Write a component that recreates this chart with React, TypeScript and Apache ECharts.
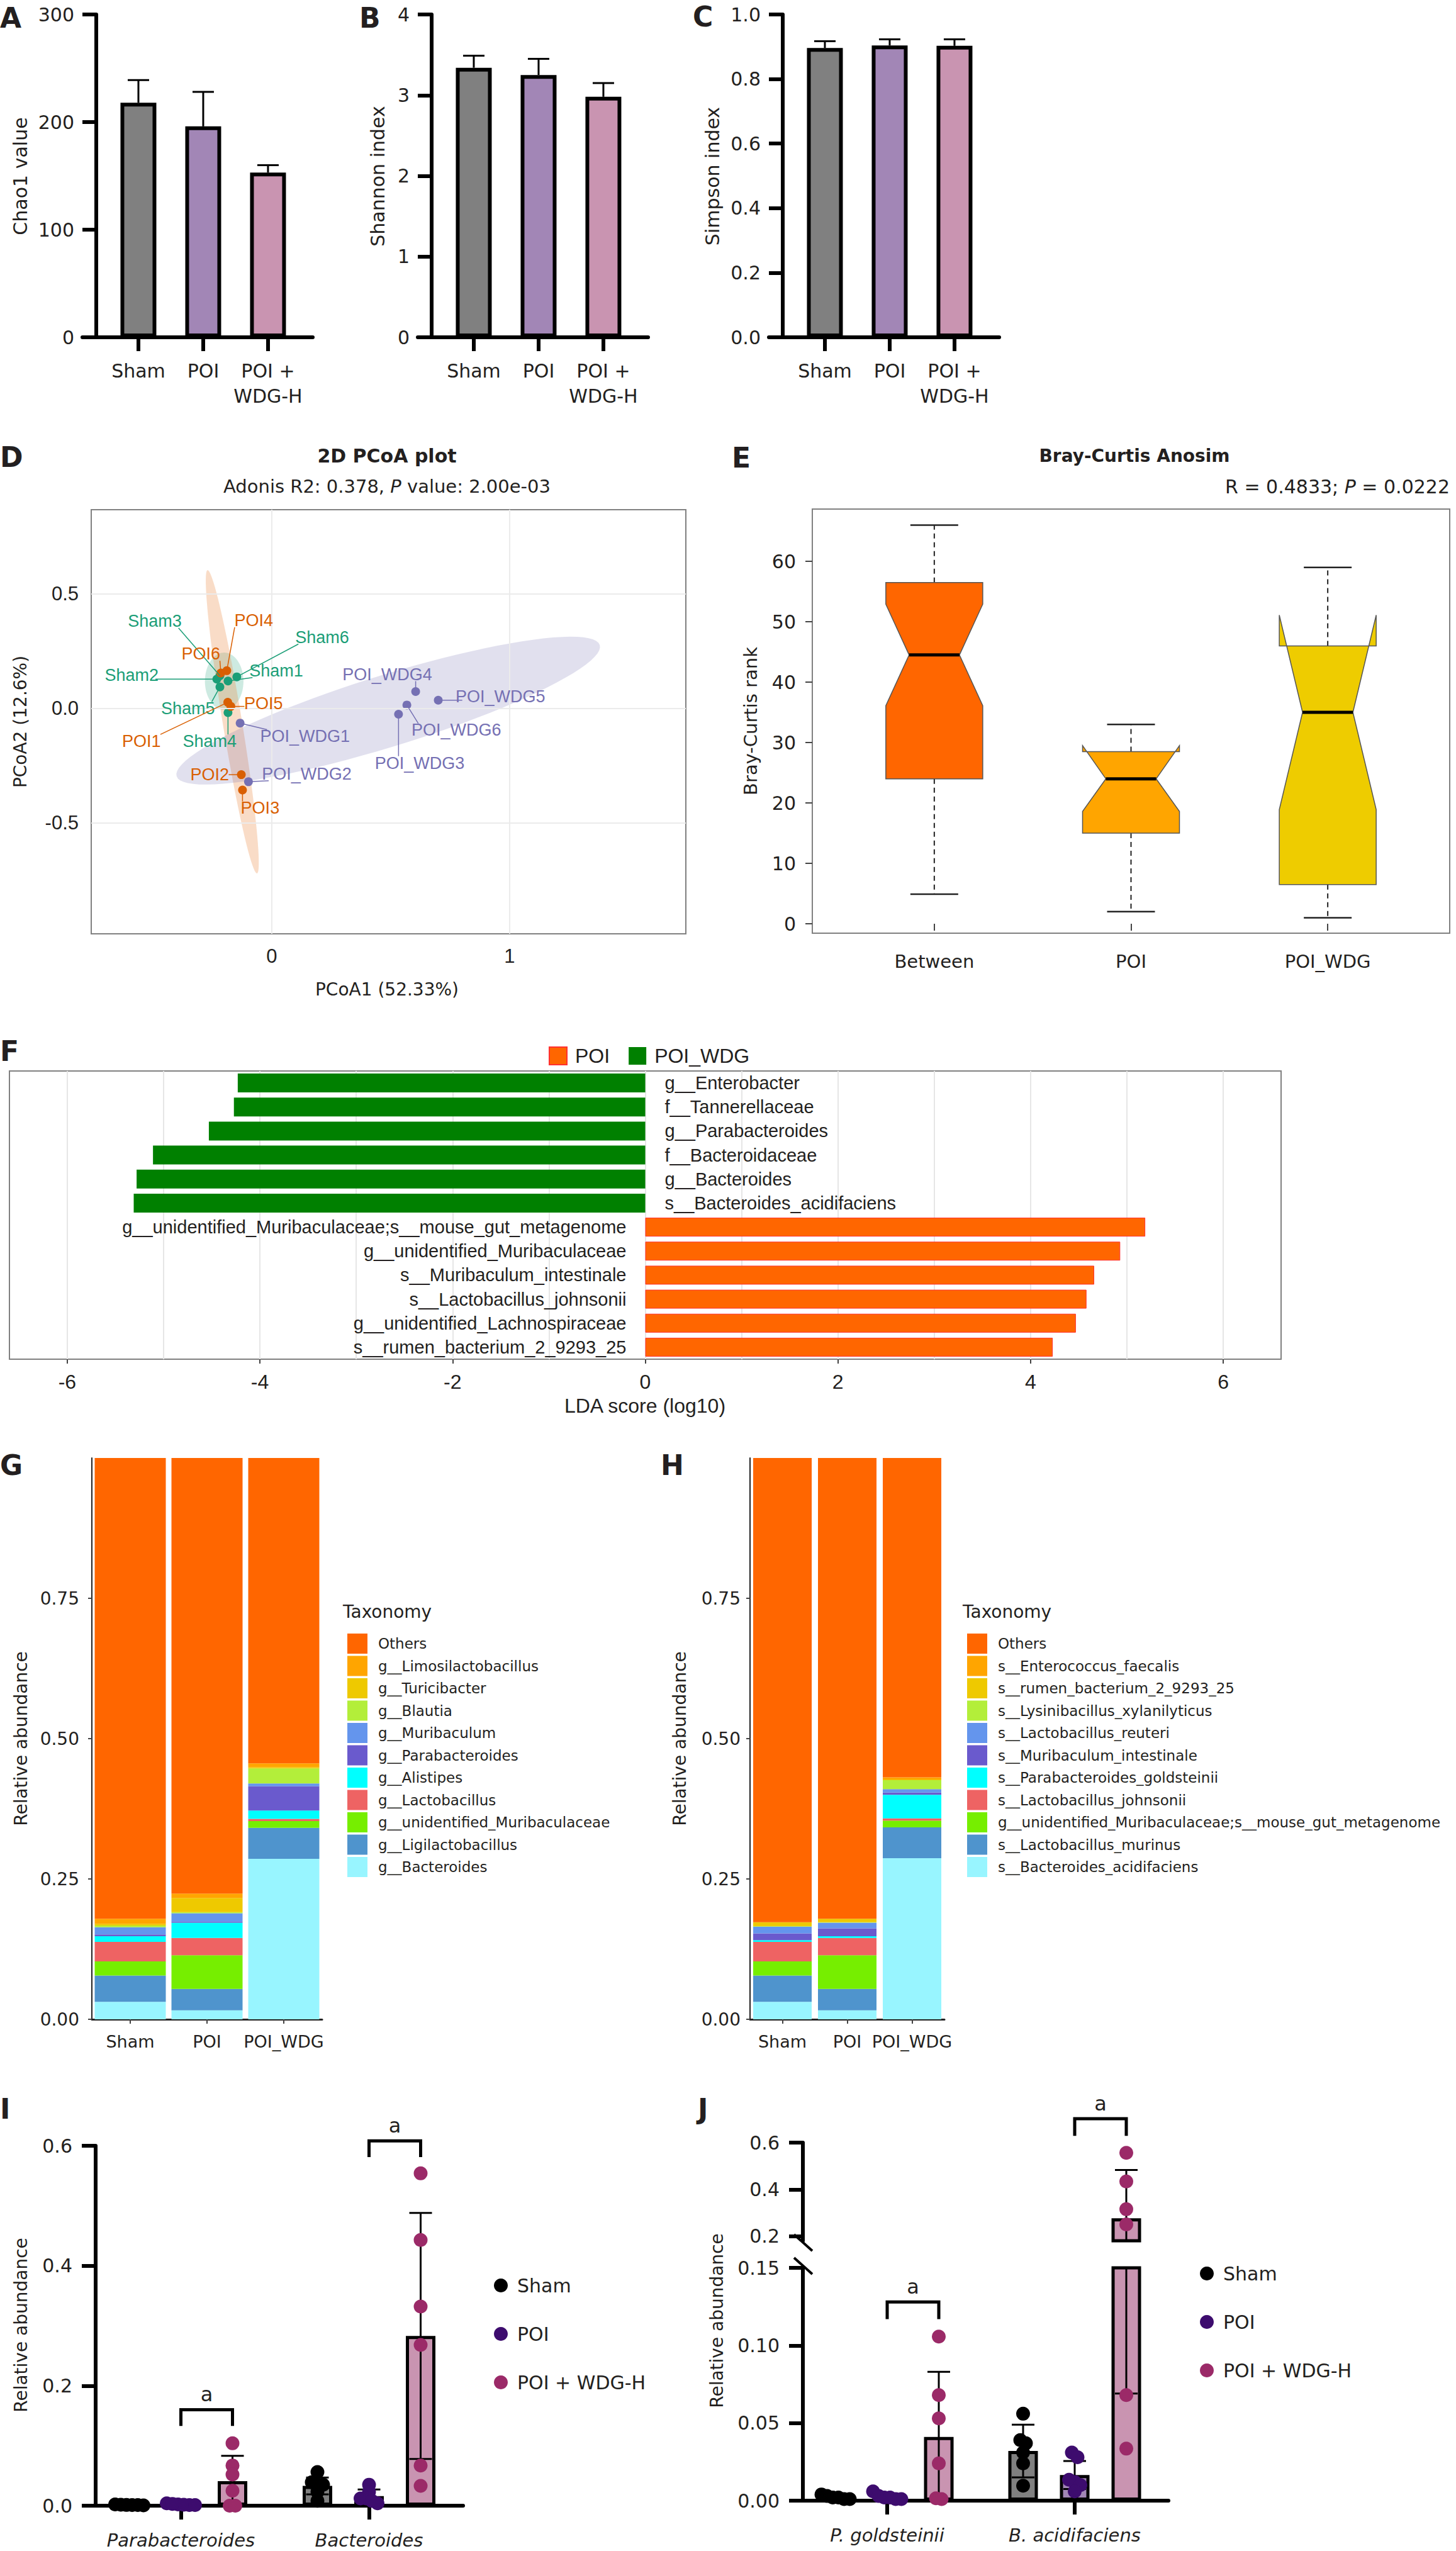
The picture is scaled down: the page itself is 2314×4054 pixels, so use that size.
import React, { useEffect, useRef } from "react";
import * as echarts from "echarts";

const FONT = '"DejaVu Sans", Verdana, sans-serif';
const RFONT = '"Liberation Sans", Arial, sans-serif';
const INK = "#231f20";

// ================= DATA =================
// A–C alpha diversity
const alphaGroups = ["Sham", "POI", "POI +\nWDG-H"];
const alphaColors = ["#808080", "#A286B6", "#C994B1"];
const chao1Mean = [218, 196, 153];
const chao1Err = [21, 32, 7];
const shannonMean = [3.34, 3.25, 2.98];
const shannonErr = [0.15, 0.2, 0.17];
const simpsonMean = [0.896, 0.904, 0.903];
const simpsonErr = [0.021, 0.019, 0.02];

// D PCoA
const pcoaColors = ["#1B9E77", "#D95F02", "#7570B3"];
const pcoaFills = ["rgba(27,158,119,0.22)", "rgba(235,140,70,0.30)", "rgba(117,112,179,0.22)"];
const shamNames = ["Sham1", "Sham2", "Sham3", "Sham4", "Sham5", "Sham6"];
const shamXY = [[-0.184, 0.12], [-0.231, 0.128], [-0.218, 0.143], [-0.184, -0.018], [-0.218, 0.094], [-0.147, 0.138]];
const shamLabelXY = [[0.019, 0.165], [-0.589, 0.146], [-0.492, 0.381], [-0.261, -0.143], [-0.352, 0.0], [0.212, 0.311]];
const poiNames = ["POI1", "POI2", "POI3", "POI4", "POI5", "POI6"];
const poiXY = [[-0.185, 0.027], [-0.128, -0.289], [-0.123, -0.356], [-0.189, 0.165], [-0.172, 0.009], [-0.214, 0.155]];
const poiLabelXY = [[-0.548, -0.143], [-0.261, -0.289], [-0.049, -0.435], [-0.076, 0.384], [-0.035, 0.021], [-0.298, 0.238]];
const wdgNames = ["POI_WDG1", "POI_WDG2", "POI_WDG3", "POI_WDG4", "POI_WDG5", "POI_WDG6"];
const wdgXY = [[-0.133, -0.064], [-0.098, -0.32], [0.533, -0.025], [0.605, 0.074], [0.7, 0.036], [0.568, 0.015]];
const wdgLabelXY = [[0.14, -0.122], [0.147, -0.286], [0.622, -0.238], [0.486, 0.149], [0.961, 0.051], [0.776, -0.095]];
// ellipse: centre x, centre y, semi-axis a (x,y), semi-axis b (x,y)
const pcoaEllipses = [
  [-0.2, 0.119, 0, 0.125, 0.081, 0],
  [-0.166, -0.058, 0.104, -0.662, 0.04, 0.007],
  [0.4895, -0.0095, 0.8895, 0.2865, -0.045, 0.149],
];

// E ANOSIM
const anosimGroups = ["Between", "POI", "POI_WDG"];
const anosimColors = ["#FF6600", "#FFA500", "#EECC00"];
// whisker low, q1, notch low, median, notch high, q3, whisker high
const anosimStats = [
  [4.9, 24.0, 36.1, 44.5, 52.9, 56.5, 66.0],
  [2.0, 15.0, 18.6, 24.0, 29.5, 28.5, 33.0],
  [1.0, 6.5, 18.9, 35.0, 51.1, 46.0, 59.0],
];

// F LEfSe
const ldaTaxa = [
  "g__Enterobacter", "f__Tannerellaceae", "g__Parabacteroides", "f__Bacteroidaceae", "g__Bacteroides",
  "s__Bacteroides_acidifaciens", "g__unidentified_Muribaculaceae;s__mouse_gut_metagenome",
  "g__unidentified_Muribaculaceae", "s__Muribaculum_intestinale", "s__Lactobacillus_johnsonii",
  "g__unidentified_Lachnospiraceae", "s__rumen_bacterium_2_9293_25",
];
const ldaScores = [-4.23, -4.27, -4.53, -5.11, -5.28, -5.31, 5.19, 4.93, 4.66, 4.58, 4.47, 4.23];
const ldaTicks = [-6, -4, -2, 0, 2, 4, 6];
const ldaGrid = [-6, -5, -4, -3, -2, -1, 0, 1, 2, 3, 4, 5, 6];

// G / H stacked composition (bottom -> top)
const stackGroups = ["Sham", "POI", "POI_WDG"];
const stackColors = ["#98F5FF", "#4F94CD", "#76EE00", "#EE6363", "#00FFFF", "#6A5ACD", "#6495ED", "#B3EE3A", "#EEC900", "#FFA500", "#FF6600"];
const genusTaxa = ["g__Bacteroides", "g__Ligilactobacillus", "g__unidentified_Muribaculaceae", "g__Lactobacillus", "g__Alistipes", "g__Parabacteroides", "g__Muribaculum", "g__Blautia", "g__Turicibacter", "g__Limosilactobacillus", "Others"];
const genusValues = [
  [0.031, 0.016, 0.286],
  [0.047, 0.038, 0.055],
  [0.025, 0.06, 0.012],
  [0.035, 0.031, 0.004],
  [0.01, 0.027, 0.015],
  [0.003, 0.002, 0.043],
  [0.013, 0.015, 0.005],
  [0.003, 0.002, 0.027],
  [0.003, 0.025, 0.002],
  [0.009, 0.008, 0.007],
  [0.821, 0.776, 0.544],
];
const speciesTaxa = ["s__Bacteroides_acidifaciens", "s__Lactobacillus_murinus", "g__unidentified_Muribaculaceae;s__mouse_gut_metagenome", "s__Lactobacillus_johnsonii", "s__Parabacteroides_goldsteinii", "s__Muribaculum_intestinale", "s__Lactobacillus_reuteri", "s__Lysinibacillus_xylanilyticus", "s__rumen_bacterium_2_9293_25", "s__Enterococcus_faecalis", "Others"];
const speciesValues = [
  [0.031, 0.016, 0.287],
  [0.047, 0.038, 0.055],
  [0.025, 0.06, 0.012],
  [0.035, 0.031, 0.004],
  [0.003, 0.003, 0.042],
  [0.012, 0.014, 0.004],
  [0.012, 0.01, 0.006],
  [0.001, 0.001, 0.016],
  [0.007, 0.006, 0.001],
  [0.0, 0.0, 0.004],
  [0.827, 0.821, 0.569],
];
const stackTicks = [0, 0.25, 0.5, 0.75];

// I / J relative abundance (per group: [category0, category1])
const memberNames = ["Sham", "POI", "POI + WDG-H"];
const pointColors = ["#000000", "#3D0C6E", "#9B2A68"];
const iCats = ["Parabacteroides", "Bacteroides"];
const iShamPts = [[0.001, 0.0015, 0.002, 0.001, 0.0005, 0.0012], [0.056, 0.039, 0.035, 0.035, 0.023, 0.008]];
const iPoiPts = [[0.004, 0.002, 0.001, 0.0015, 0.001, 0.003], [0.035, 0.023, 0.012, 0.012, 0.008, 0.004]];
const iWdgPts = [[0.104, 0.067, 0.052, 0.025, 0.0, 0.0], [0.554, 0.443, 0.332, 0.268, 0.067, 0.033]];
const iMeans = [[0.0012, 0.033], [0.002, 0.016], [0.041, 0.283]];
const iSd = [[0.0005, 0.014], [0.0012, 0.011], [0.042, 0.205]];
const iBrackets = [[0, 0.16, 0.133], [1, 0.608, 0.581]];

const jCats = ["P. goldsteinii", "B. acidifaciens"];
const jShamPts = [[0.002, 0.003, 0.001, 0.004, 0.002, 0.001], [0.056, 0.039, 0.037, 0.031, 0.024, 0.0096]];
const jPoiPts = [[0.006, 0.002, 0.001, 0.003, 0.001, 0.002], [0.031, 0.028, 0.0135, 0.012, 0.01, 0.006]];
const jWdgPts = [[0.1057, 0.068, 0.053, 0.024, 0.001, 0.0015], [0.556, 0.434, 0.315, 0.25, 0.068, 0.0335]];
const jMeans = [[0.002, 0.032], [0.0025, 0.0165], [0.041, 0.276]];
const jSd = [[0.001, 0.017], [0.002, 0.009], [0.042, 0.207]];
const jBracketsLow = [[0, 0.128, 0.117]];
const jBracketsHigh = [[1, 0.702, 0.629]];

// ================= HELPERS =================
// centre points that share (nearly) the same height side by side
function swarm(ys: number[], step: number, rowTol: number): number[] {
  const order = ys.map((_, i) => i).sort((a, b) => ys[a] - ys[b]);
  const out = ys.map(() => 0);
  let row: number[] = [];
  const flush = () => {
    const n = row.length;
    row.forEach((idx, r) => { out[idx] = (r - (n - 1) / 2) * step; });
    row = [];
  };
  order.forEach((i) => {
    if (row.length && Math.abs(ys[i] - ys[row[row.length - 1]]) > rowTol) flush();
    row.push(i);
  });
  flush();
  return out;
}

function ln(x1: number, y1: number, x2: number, y2: number, stroke: string, lw: number, dash?: number[]) {
  return { type: "line", shape: { x1, y1, x2, y2 }, style: { stroke, lineWidth: lw, lineDash: dash } };
}

function T(x: number, y: number, text: string, o: any = {}) {
  return {
    type: "text", x, y, rotation: o.rot || 0, silent: true, z: 100,
    style: {
      text, fill: o.color || INK, fontSize: o.size || 30, fontFamily: o.font || FONT,
      fontWeight: o.weight || "normal", fontStyle: o.fstyle || "normal",
      align: o.align || "center", verticalAlign: o.va || "middle", rich: o.rich,
    },
  };
}

function buildOption() {
  const grid: any[] = [], xAxis: any[] = [], yAxis: any[] = [], series: any[] = [], legend: any[] = [], graphic: any[] = [];
  const addGrid = (g: any, xa: any, ya: any) => {
    const gi = grid.length;
    grid.push({ containLabel: false, ...g });
    xAxis.push({ ...xa, gridIndex: gi });
    yAxis.push({ ...ya, gridIndex: gi });
    return gi;
  };

  // ---------- A, B, C ----------
  const alphaPanels = [
    { letter: "A", lx: 0, ly: 28, axisX: 153, title: "Chao1 value", tx: 32, mean: chao1Mean, err: chao1Err, max: 300, step: 100, dec: 0 },
    { letter: "B", lx: 571, ly: 28, axisX: 686, title: "Shannon index", tx: 600, mean: shannonMean, err: shannonErr, max: 4, step: 1, dec: 0 },
    { letter: "C", lx: 1101, ly: 26, axisX: 1244, title: "Simpson index", tx: 1132, mean: simpsonMean, err: simpsonErr, max: 1, step: 0.2, dec: 1 },
  ];
  alphaPanels.forEach((p) => {
    const gi = addGrid(
      { left: p.axisX - 22, top: 23, width: 366, height: 513 },
      {
        type: "value", min: 0.136, max: 3.69,
        axisLine: { show: true, onZero: false, lineStyle: { color: "#000", width: 6 } },
        axisTick: { show: true, customValues: [1, 2, 3], length: 22, lineStyle: { color: "#000", width: 6 } },
        axisLabel: { show: true, customValues: [1, 2, 3], formatter: (v: number) => alphaGroups[Math.round(v) - 1], fontSize: 30, fontFamily: FONT, color: INK, margin: 33, lineHeight: 40 },
        splitLine: { show: false },
      },
      {
        type: "value", min: 0, max: p.max, interval: p.step, offset: -22,
        axisLine: { show: true, lineStyle: { color: "#000", width: 6 } },
        axisTick: { show: true, length: 22, lineStyle: { color: "#000", width: 6 } },
        axisLabel: { fontSize: 30, fontFamily: FONT, color: INK, margin: 35, formatter: (v: number) => v.toFixed(p.dec) },
        splitLine: { show: false },
      }
    );
    series.push({
      type: "bar", xAxisIndex: gi, yAxisIndex: gi, barWidth: 57, silent: true, z: 3,
      itemStyle: { borderColor: "#000", borderWidth: 6 },
      data: p.mean.map((m, i) => ({ value: [i + 1, m], itemStyle: { color: alphaColors[i] } })),
    });
    series.push({
      type: "custom", xAxisIndex: gi, yAxisIndex: gi, silent: true, z: 2,
      data: p.mean.map((m, i) => [i + 1, m, p.err[i]]),
      renderItem: (params: any, api: any) => {
        const x = api.value(0), m = api.value(1), e = api.value(2);
        const p0 = api.coord([x, m]);
        const p1 = api.coord([x, m + e]);
        return { type: "group", children: [ln(p0[0], p0[1], p1[0], p1[1], "#000", 3), ln(p1[0] - 17, p1[1], p1[0] + 17, p1[1], "#000", 3)] };
      },
    });
    graphic.push(T(p.lx, p.ly, p.letter, { size: 44, weight: "bold", align: "left" }));
    graphic.push(T(p.tx, 280, p.title, { rot: Math.PI / 2, size: 30 }));
  });

  // ---------- D ----------
  {
    const gi = addGrid(
      { left: 145, top: 810, width: 945, height: 674, show: true, borderColor: "#808080", borderWidth: 2, backgroundColor: "#fff" },
      {
        type: "value", min: -0.759, max: 1.741, axisLine: { show: false },
        axisTick: { show: true, customValues: [0, 1], length: 8, lineStyle: { color: "#555", width: 2 } },
        axisLabel: { customValues: [0, 1], formatter: (v: number) => String(v), fontSize: 31, fontFamily: RFONT, color: INK, margin: 20 },
        splitLine: { show: false },
      },
      {
        type: "value", min: -0.984, max: 0.868, axisLine: { show: false },
        axisTick: { show: true, customValues: [-0.5, 0, 0.5], length: 8, lineStyle: { color: "#555", width: 2 } },
        axisLabel: { customValues: [-0.5, 0, 0.5], formatter: (v: number) => v.toFixed(1), fontSize: 31, fontFamily: RFONT, color: INK, margin: 20 },
        splitLine: { show: false },
      }
    );
    series.push({
      type: "custom", xAxisIndex: gi, yAxisIndex: gi, silent: true, z: 1,
      data: pcoaEllipses.map((e) => [e[0], e[1]]),
      renderItem: (params: any, api: any) => {
        const e = pcoaEllipses[params.dataIndex];
        const pts: number[][] = [];
        for (let i = 0; i < 90; i++) {
          const t = (i / 90) * Math.PI * 2;
          pts.push(api.coord([e[0] + Math.cos(t) * e[2] + Math.sin(t) * e[4], e[1] + Math.cos(t) * e[3] + Math.sin(t) * e[5]]));
        }
        return { type: "polygon", shape: { points: pts }, style: { fill: pcoaFills[params.dataIndex] } };
      },
      markLine: {
        silent: true, symbol: ["none", "none"], label: { show: false },
        lineStyle: { color: "#EBEBEB", width: 2, type: "solid" },
        data: [{ xAxis: 0 }, { xAxis: 1 }, { yAxis: -0.5 }, { yAxis: 0 }, { yAxis: 0.5 }],
      },
    });
    const groups = [
      { xy: shamXY, lab: shamLabelXY, names: shamNames },
      { xy: poiXY, lab: poiLabelXY, names: poiNames },
      { xy: wdgXY, lab: wdgLabelXY, names: wdgNames },
    ];
    groups.forEach((g, gIdx) => {
      series.push({
        type: "scatter", xAxisIndex: gi, yAxisIndex: gi, silent: true, z: 4, symbolSize: 14,
        itemStyle: { color: pcoaColors[gIdx], opacity: 1 }, data: g.xy,
      });
      series.push({
        type: "custom", xAxisIndex: gi, yAxisIndex: gi, silent: true, z: 5,
        data: g.xy.map((p, i) => [p[0], p[1], g.lab[i][0], g.lab[i][1]]),
        renderItem: (params: any, api: any) => {
          const P = api.coord([api.value(0), api.value(1)]);
          const L = api.coord([api.value(2), api.value(3)]);
          const name = g.names[params.dataIndex];
          const fs = 27, w = name.length * fs * 0.56, h = fs * 0.8;
          const qx = Math.min(Math.max(P[0], L[0] - w / 2), L[0] + w / 2);
          const qy = Math.min(Math.max(P[1], L[1] - h / 2), L[1] + h / 2);
          const d = Math.hypot(P[0] - qx, P[1] - qy);
          const children: any[] = [];
          if (d > 16) children.push(ln(P[0], P[1], qx, qy, pcoaColors[gIdx], 1.5));
          children.push({ type: "text", x: L[0], y: L[1], style: { text: name, fill: pcoaColors[gIdx], fontSize: fs, fontFamily: RFONT, align: "center", verticalAlign: "middle" } });
          return { type: "group", children };
        },
      });
    });
    graphic.push(T(0, 726, "D", { size: 44, weight: "bold", align: "left" }));
    graphic.push(T(615, 724, "2D PCoA plot", { size: 30, weight: "bold" }));
    graphic.push(T(615, 773, "Adonis R2: 0.378, {i|P} value: 2.00e-03", { size: 29, rich: { i: { fontStyle: "italic", fontSize: 29, fontFamily: FONT, fill: INK } } }));
    graphic.push(T(32, 1147, "PCoA2 (12.6%)", { rot: Math.PI / 2, size: 28 }));
    graphic.push(T(615, 1572, "PCoA1 (52.33%)", { size: 28 }));
  }

  // ---------- E ----------
  {
    const gi = addGrid(
      { left: 1291, top: 809, width: 1013, height: 674, show: true, borderColor: "#808080", borderWidth: 2, backgroundColor: "#fff" },
      {
        type: "value", min: 0.38, max: 3.62, axisLine: { show: false },
        axisTick: { show: true, customValues: [1, 2, 3], length: 11, lineStyle: { color: "#444", width: 2 } },
        axisLabel: { customValues: [1, 2, 3], formatter: (v: number) => anosimGroups[Math.round(v) - 1], fontSize: 29, fontFamily: FONT, color: INK, margin: 30 },
        splitLine: { show: false },
      },
      {
        type: "value", min: -1.56, max: 68.65, axisLine: { show: false },
        axisTick: { show: true, customValues: [0, 10, 20, 30, 40, 50, 60], length: 11, lineStyle: { color: "#444", width: 2 } },
        axisLabel: { customValues: [0, 10, 20, 30, 40, 50, 60], formatter: (v: number) => String(Math.round(v)), fontSize: 30, fontFamily: FONT, color: INK, margin: 26 },
        splitLine: { show: false },
      }
    );
    series.push({
      type: "custom", xAxisIndex: gi, yAxisIndex: gi, silent: true, z: 3,
      data: anosimStats.map((s, i) => [i + 1, s[3]]),
      renderItem: (params: any, api: any) => {
        const i = params.dataIndex;
        const [wl, q1, nl, med, nh, q3, wh] = anosimStats[i];
        const x = api.value(0);
        const pt = (v: number, dx: number) => { const p = api.coord([x, v]); return [p[0] + dx, p[1]]; };
        const HW = 77, NW = 40, CW = 38;
        const poly = [pt(q1, -HW), pt(nl, -HW), pt(med, -NW), pt(nh, -HW), pt(q3, -HW), pt(q3, HW), pt(nh, HW), pt(med, NW), pt(nl, HW), pt(q1, HW)];
        const a = pt(q3, 0), b = pt(wh, 0), c = pt(q1, 0), d = pt(wl, 0);
        const ml = pt(med, -NW), mr = pt(med, NW);
        const wt1 = pt(wh, -CW), wt2 = pt(wh, CW), wb1 = pt(wl, -CW), wb2 = pt(wl, CW);
        return {
          type: "group",
          children: [
            ln(a[0], a[1], b[0], b[1], "#222", 2, [8, 6]),
            ln(c[0], c[1], d[0], d[1], "#222", 2, [8, 6]),
            ln(wt1[0], wt1[1], wt2[0], wt2[1], "#222", 2.5),
            ln(wb1[0], wb1[1], wb2[0], wb2[1], "#222", 2.5),
            { type: "polygon", shape: { points: poly }, style: { fill: anosimColors[i], stroke: "#555", lineWidth: 1.5 } },
            ln(ml[0], ml[1], mr[0], mr[1], "#000", 5),
          ],
        };
      },
    });
    graphic.push(T(1163, 727, "E", { size: 44, weight: "bold", align: "left" }));
    graphic.push(T(1803, 724, "Bray-Curtis Anosim", { size: 28, weight: "bold" }));
    graphic.push(T(2304, 773, "R = 0.4833; {i|P} = 0.0222", { size: 30, align: "right", rich: { i: { fontStyle: "italic", fontSize: 30, fontFamily: FONT, fill: INK } } }));
    graphic.push(T(1193, 1146, "Bray-Curtis rank", { rot: Math.PI / 2, size: 29 }));
  }

  // ---------- F ----------
  {
    const gi = addGrid(
      { left: 15, top: 1702, width: 2021, height: 458, show: true, borderColor: "#808080", borderWidth: 2, backgroundColor: "#fff" },
      {
        type: "value", min: -6.6, max: 6.6, axisLine: { show: false },
        axisTick: { show: true, customValues: ldaTicks, length: 7, lineStyle: { color: "#444", width: 2 } },
        axisLabel: { customValues: ldaTicks, formatter: (v: number) => String(v), fontSize: 32, fontFamily: RFONT, color: INK, margin: 20 },
        splitLine: { show: false },
      },
      { type: "category", data: ldaTaxa, inverse: true, show: false }
    );
    series.push({
      type: "bar", name: "F:POI_WDG", xAxisIndex: gi, yAxisIndex: gi, silent: true, z: 3, barWidth: 30, barGap: "-100%",
      itemStyle: { color: "#008000" },
      data: ldaScores.map((v) => (v < 0 ? v : "-")),
      markLine: {
        silent: true, symbol: ["none", "none"], label: { show: false }, z: 1,
        lineStyle: { color: "#E6E6E6", width: 2, type: "solid" },
        data: ldaGrid.map((v) => ({ xAxis: v })),
      },
    });
    series.push({
      type: "bar", name: "F:POI", xAxisIndex: gi, yAxisIndex: gi, silent: true, z: 3, barWidth: 30, barGap: "-100%",
      itemStyle: { color: "#FF6600", borderColor: "#FF3030", borderWidth: 1 },
      data: ldaScores.map((v) => (v > 0 ? v : "-")),
    });
    series.push({
      type: "custom", xAxisIndex: gi, yAxisIndex: gi, silent: true, z: 5,
      data: ldaScores.map((v, i) => [v, i]),
      renderItem: (params: any, api: any) => {
        const v = api.value(0);
        const p = api.coord([0, api.value(1)]);
        const left = v < 0;
        return {
          type: "text", x: p[0] + (left ? 31 : -30), y: p[1],
          style: { text: ldaTaxa[params.dataIndex], fill: INK, fontSize: 29, fontFamily: RFONT, align: left ? "left" : "right", verticalAlign: "middle" },
        };
      },
    });
    legend.push({
      data: ["F:POI", "F:POI_WDG"], left: 867, top: 1657, itemWidth: 28, itemHeight: 28, itemGap: 30, icon: "rect",
      selectedMode: false, formatter: (n: string) => n.slice(2),
      textStyle: { fontSize: 32, fontFamily: RFONT, color: INK, padding: [0, 0, 0, 8] },
    });
    graphic.push(T(0, 1670, "F", { size: 44, weight: "bold", align: "left" }));
    graphic.push(T(1025, 2234, "LDA score (log10)", { size: 32, font: RFONT }));
  }

  // ---------- G, H ----------
  const stackPanels = [
    { prefix: "G:", letter: "G", lx: 0, left: 146, width: 366, barW: 113, taxa: genusTaxa, values: genusValues, legLeft: 547, titleX: 33, labMargin: 20 },
    { prefix: "H:", letter: "H", lx: 1050, left: 1192, width: 309, barW: 93, taxa: speciesTaxa, values: speciesValues, legLeft: 1532, titleX: 1080, labMargin: 15 },
  ];
  stackPanels.forEach((p) => {
    const gi = addGrid(
      { left: p.left, top: 2317, width: p.width, height: 892 },
      {
        type: "category", data: stackGroups,
        axisLine: { show: true, lineStyle: { color: "#222", width: 3 } },
        axisTick: { show: true, alignWithLabel: true, length: 7, lineStyle: { color: "#444", width: 2 } },
        axisLabel: { fontSize: 27, fontFamily: FONT, color: INK, margin: 22, interval: 0 },
      },
      {
        type: "value", min: 0, max: 1, interval: 0.25,
        axisLine: { show: true, lineStyle: { color: "#222", width: 2 } },
        axisTick: { show: true, customValues: stackTicks, length: 6, lineStyle: { color: "#444", width: 2 } },
        axisLabel: { customValues: stackTicks, formatter: (v: number) => v.toFixed(2), fontSize: 28, fontFamily: FONT, color: INK, margin: p.labMargin },
        splitLine: { show: false },
      }
    );
    p.taxa.forEach((t, k) => {
      series.push({
        type: "bar", name: p.prefix + t, stack: p.prefix, xAxisIndex: gi, yAxisIndex: gi, silent: true,
        barWidth: p.barW, itemStyle: { color: stackColors[k] }, data: p.values[k],
      });
    });
    legend.push({
      data: p.taxa.slice().reverse().map((t) => p.prefix + t), orient: "vertical", left: p.legLeft, top: 2591,
      itemWidth: 32, itemHeight: 32, itemGap: 3.5, icon: "rect", selectedMode: false,
      formatter: (n: string) => n.slice(2),
      textStyle: { fontSize: 23, fontFamily: FONT, color: INK, padding: [0, 0, 0, 12] },
    });
    graphic.push(T(p.lx, 2328, p.letter, { size: 44, weight: "bold", align: "left" }));
    graphic.push(T(p.legLeft - 2, 2561, "Taxonomy", { size: 28, align: "left" }));
    graphic.push(T(p.titleX, 2763, "Relative abundance", { rot: Math.PI / 2, size: 28 }));
  });

  // ---------- I, J ----------
  const OFF = 82;
  const addDotPanel = (o: any) => {
    o.grids.forEach((g: any) => {
      const gi = g.gi;
      for (let k = 0; k < 3; k++) {
        series.push({
          type: "bar", xAxisIndex: gi, yAxisIndex: gi, silent: true, z: 2, barWidth: 47, barGap: "74.5%",
          itemStyle: { color: alphaColors[k], borderColor: "#000", borderWidth: 5 },
          data: o.means[k],
        });
      }
      for (let k = 0; k < 3; k++) {
        series.push({
          type: "custom", xAxisIndex: gi, yAxisIndex: gi, silent: true, z: 3, clip: true,
          data: o.means[k].map((m: number, c: number) => [c, m, o.sd[k][c]]),
          renderItem: (params: any, api: any) => {
            const c = api.value(0), m = api.value(1), s = api.value(2);
            const top = api.coord([c, m + s]);
            const bot = api.coord([c, Math.max(0, m - s)]);
            const x = top[0] + (k - 1) * OFF;
            return { type: "group", children: [ln(x, bot[1], x, top[1], "#000", 3), ln(x - 18, top[1], x + 18, top[1], "#000", 3), ln(x - 18, bot[1], x + 18, bot[1], "#000", 3)] };
          },
        });
        const all: number[][] = [];
        o.pts[k].forEach((arr: number[], c: number) => arr.forEach((v) => all.push([c, v])));
        series.push({
          type: "custom", name: o.prefix + memberNames[k], xAxisIndex: gi, yAxisIndex: gi, silent: true, z: 4,
          itemStyle: { color: pointColors[k] },
          data: all.map((d, j) => [d[0], d[1], j]).filter((d) => d[1] >= g.lo && d[1] <= g.hi),
          renderItem: (params: any, api: any) => {
            const idx = api.value(2);
            const [c, v] = all[idx];
            const members = all.map((d, j) => [d, j] as any).filter(([d]: any) => d[0] === c);
            const ys = members.map(([d]: any) => api.coord([d[0], d[1]])[1]);
            const offs = swarm(ys, 9, 8);
            const pos = members.findIndex(([, j]: any) => j === idx);
            const p = api.coord([c, v]);
            return { type: "circle", shape: { cx: p[0] + (k - 1) * OFF + offs[pos], cy: p[1], r: 11 }, style: { fill: pointColors[k] } };
          },
        });
      }
      series.push({
        type: "custom", xAxisIndex: gi, yAxisIndex: gi, silent: true, z: 6, clip: false,
        data: g.brackets,
        renderItem: (params: any, api: any) => {
          const c = api.value(0);
          const a = api.coord([c, api.value(1)]);
          const b = api.coord([c, api.value(2)]);
          const x1 = a[0], x2 = a[0] + OFF;
          return {
            type: "group",
            children: [
              { type: "polyline", shape: { points: [[x1, b[1]], [x1, a[1]], [x2, a[1]], [x2, b[1]]] }, style: { stroke: "#000", lineWidth: 5, fill: "none" } },
              { type: "text", x: (x1 + x2) / 2, y: a[1] - 24, style: { text: "a", fill: INK, fontSize: 32, fontFamily: FONT, align: "center", verticalAlign: "middle" } },
            ],
          };
        },
      });
    });
    legend.push({
      data: memberNames.map((n) => o.prefix + n), orient: "vertical", left: o.legLeft, top: o.legTop,
      itemWidth: 22, itemHeight: 22, itemGap: 47, icon: "circle", selectedMode: false,
      formatter: (n: string) => n.slice(2),
      textStyle: { fontSize: 30, fontFamily: FONT, color: INK, padding: [0, 0, 0, 10] },
    });
  };

  const dotXAxis = (cats: string[], show: boolean) => ({
    type: "category", data: cats, show,
    axisLine: { show: true, onZero: false, lineStyle: { color: "#000", width: 6 } },
    axisTick: { show: true, alignWithLabel: true, length: 22, lineStyle: { color: "#000", width: 6 } },
    axisLabel: { fontSize: 29, fontStyle: "italic", fontFamily: FONT, color: INK, margin: 40, interval: 0 },
  });
  const dotYAxis = (min: number, max: number, interval: number, dec: number, offset: number, custom?: number[]) => ({
    type: "value", min, max, interval, offset,
    axisLine: { show: true, lineStyle: { color: "#000", width: 6 } },
    axisTick: { show: true, length: 22, lineStyle: { color: "#000", width: 6 }, customValues: custom },
    axisLabel: { formatter: (v: number) => v.toFixed(dec), fontSize: 30, fontFamily: FONT, color: INK, margin: 37, customValues: custom },
    splitLine: { show: false },
  });

  {
    const gi = addGrid({ left: 138, top: 3410, width: 598, height: 572 }, dotXAxis(iCats, true), dotYAxis(0, 0.6, 0.2, 1, -14));
    addDotPanel({
      prefix: "I:", pts: [iShamPts, iPoiPts, iWdgPts], means: iMeans, sd: iSd, legLeft: 780, legTop: 3612,
      grids: [{ gi, lo: -1, hi: 10, brackets: iBrackets }],
    });
    graphic.push(T(0, 3351, "I", { size: 44, weight: "bold", align: "left" }));
    graphic.push(T(33, 3695, "Relative abundance", { rot: Math.PI / 2, size: 28 }));
  }
  {
    const giLow = addGrid({ left: 1261, top: 3604, width: 596, height: 370 }, dotXAxis(jCats, true), dotYAxis(0, 0.15, 0.05, 2, -15));
    const giHigh = addGrid({ left: 1261, top: 3405, width: 596, height: 156 }, dotXAxis(jCats, false), dotYAxis(0.18, 0.6, 0.2, 1, -15, [0.2, 0.4, 0.6]));
    addDotPanel({
      prefix: "J:", pts: [jShamPts, jPoiPts, jWdgPts], means: jMeans, sd: jSd, legLeft: 1902, legTop: 3593,
      grids: [
        { gi: giLow, lo: -1, hi: 0.15, brackets: jBracketsLow },
        { gi: giHigh, lo: 0.18, hi: 10, brackets: jBracketsHigh },
      ],
    });
    graphic.push({ type: "line", silent: true, z: 100, shape: { x1: 1262, y1: 3551, x2: 1291, y2: 3577 }, style: { stroke: "#000", lineWidth: 4 } });
    graphic.push({ type: "line", silent: true, z: 100, shape: { x1: 1262, y1: 3588, x2: 1291, y2: 3614 }, style: { stroke: "#000", lineWidth: 4 } });
    graphic.push(T(1109, 3351, "J", { size: 44, weight: "bold", align: "left" }));
    graphic.push(T(1139, 3688, "Relative abundance", { rot: Math.PI / 2, size: 28 }));
  }

  return {
    animation: false,
    backgroundColor: "#ffffff",
    textStyle: { fontFamily: FONT, color: INK },
    tooltip: { show: false },
    grid, xAxis, yAxis, series, legend, graphic,
  };
}

export default function App() {
  const ref = useRef<HTMLDivElement>(null);
  useEffect(() => {
    document.body.style.margin = "0";
    if (!ref.current) return;
    const chart = echarts.init(ref.current, undefined, { renderer: "svg" });
    chart.setOption(buildOption() as any);
    return () => chart.dispose();
  }, []);
  return <div ref={ref} style={{ width: 2314, height: 4054, background: "#fff" }} />;
}
